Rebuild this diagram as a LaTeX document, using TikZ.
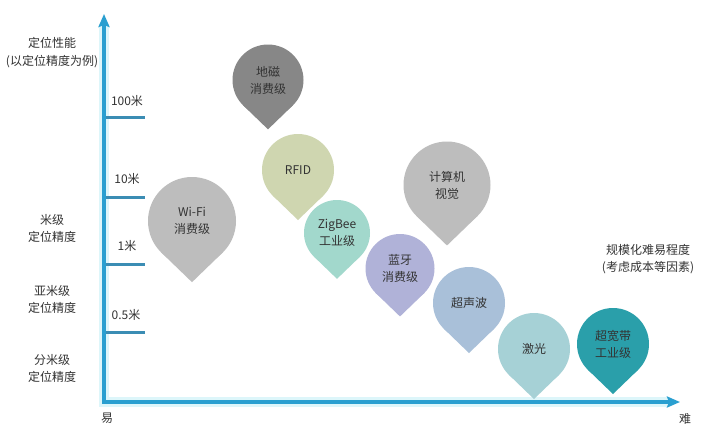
\documentclass[tikz,border=0pt]{standalone}
\usepackage{fontspec}
\setmainfont{Noto Sans CJK SC}
\usetikzlibrary{arrows.meta,calc}
\definecolor{axisblue}{HTML}{2A9FD0}
\definecolor{glowc}{HTML}{DDF6FA}
\definecolor{tickc}{HTML}{3B8DB4}
\definecolor{txt}{HTML}{333333}
\definecolor{cdici}{HTML}{878787}
\definecolor{crfid}{HTML}{CFD6B0}
\definecolor{czig}{HTML}{A2D8CC}
\definecolor{cgray}{HTML}{BDBDBD}
\definecolor{cblue}{HTML}{B0B2D8}
\definecolor{csonic}{HTML}{A9C0D9}
\definecolor{claser}{HTML}{A6D1D6}
\definecolor{cuwb}{HTML}{2A9FAA}
\newcommand\drop[6]{%
  \node[bubble, fill=#5, minimum size={2*#4pt}] (#1) at (#2,#3) {#6};
  \fill[#5] (#1.-135) -- ($(#1.center)+(0,1.39*#4)$) -- (#1.-45) -- cycle;
}
\begin{document}
\begin{tikzpicture}[x=1pt,y=-1pt,
  font=\fontsize{12}{17}\selectfont,
  lab/.style={align=center, text=txt, inner sep=0pt},
  bubble/.style={circle, inner sep=0pt, outer sep=0pt, align=center, text=txt},
  glowline/.style={draw=glowc, line width=10pt},
  axisline/.style={draw=axisblue, line width=4pt,
    {Stealth[length=13pt,width=11pt,inset=2pt]}-{Stealth[length=13pt,width=11pt,inset=2pt]}},
  tickline/.style={draw=tickc, line width=3pt}]
\useasboundingbox[fill=white] (0,0) rectangle (726,439);

% axes
\coordinate (O) at (104,402);
\coordinate (Y) at (104,14);
\coordinate (X) at (680,402);
\coordinate (Yg) at (104,24);
\coordinate (Xg) at (668,402);
\draw[glowline] (Yg) -- (O) -- (Xg);

% ticks
\foreach \n/\yy in {a/117,b/197,c/264,d/332}{
  \coordinate (\n1) at (104,\yy);
  \coordinate (\n2) at (145,\yy);
  \draw[tickline] (\n1) -- (\n2);
}
\draw[axisline] (Y) -- (O) -- (X);

% tick labels
\node[lab] (l100) at (127,101) {100米};
\node[lab] (l10) at (127,179) {10米};
\node[lab] (l1) at (127,246) {1米};
\node[lab] (l05) at (126,315) {0.5米};

% left labels
\node[lab, font=\fontsize{12}{18}\selectfont] (perf) at (52,53) {定位性能\\(以定位精度为例)};
\node[lab] (mi) at (52,228.5) {米级\\定位精度};
\node[lab] (yami) at (52,299.5) {亚米级\\定位精度};
\node[lab] (fenmi) at (52,368.5) {分米级\\定位精度};
\node[lab] (easy) at (107,418) {易};
\node[lab] (hard) at (685,419) {难};
\node[lab] (scale) at (648,259.5) {规模化难易程度\\(考虑成本等因素)};

% drops
\drop{dici}{268}{80}{35.5}{cdici}{地磁\\消费级}
\drop{wifi}{192}{221}{44}{cgray}{Wi-Fi\\消费级}
\drop{rfid}{298}{170}{36}{crfid}{RFID}
\drop{cv}{447}{185}{43.5}{cgray}{计算机\\视觉}
\drop{zig}{337}{233}{33}{czig}{ZigBee\\工业级}
\drop{bt}{400}{268.5}{34.5}{cblue}{蓝牙\\消费级}
\drop{sonic}{469}{303}{36}{csonic}{超声波}
\drop{laser}{534}{349}{36}{claser}{激光}
\drop{uwb}{613}{344}{36}{cuwb}{超宽带\\工业级}
\end{tikzpicture}
\end{document}
